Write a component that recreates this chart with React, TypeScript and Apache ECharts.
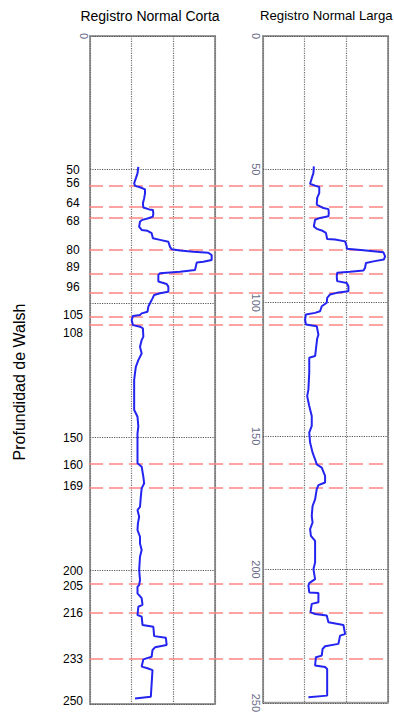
import React, { useEffect, useRef } from "react";
import * as echarts from "echarts";

// Depth axis
const depthMin = 0;
const depthMax = 250;
const depthStep = 50;

// Log value axis (arbitrary units)
const valueMin = 0;
const valueMax = 300;
const valueStep = 100;

// Registro Normal Corta: [value, depth]
const shortNormal: [number, number][] = [
  [116, 49], [114, 51.4], [110, 53.3], [106, 55.1], [108, 56.1], [120, 56.6], [132, 57.4], [132, 58.9],
  [130, 60.7], [127, 62.6], [128, 64.2], [142, 64.9], [151, 65.1], [152, 66.4], [151, 67.6], [140, 68.2],
  [124, 68.9], [120, 69.5], [118, 71.4], [124, 72.6], [138, 72.9], [148, 73.8], [151, 75.7], [168, 76.3],
  [188, 77.0], [192, 78.9], [196, 79.8], [216, 80.3], [248, 80.7], [284, 81.1], [292, 82.0], [292, 83.8],
  [272, 84.5], [256, 84.8], [254, 86.3], [252, 87.6], [216, 88.2], [168, 88.8], [164, 89.4], [164, 91.9],
  [184, 92.8], [188, 93.8], [188, 95.7], [168, 96.3], [154, 96.9], [150, 98.2], [144, 100], [140, 101.3],
  [138, 103.2], [124, 103.8], [120, 104.4], [103, 104.8], [100, 106.3], [103, 108.2], [120, 108.8],
  [127, 109.4], [128, 112.5], [124, 113.8], [120, 116.3], [124, 118.8], [116, 121.3], [110, 123.8],
  [108, 126.2], [106, 128.7], [106, 135], [106, 140], [110, 141.2], [114, 142.5], [116, 146.2],
  [114, 148.7], [114, 153.7], [114, 159.9], [124, 161.2], [128, 164.9], [130, 167.4], [124, 169.3],
  [122, 172.4], [120, 176.2], [114, 177.4], [118, 179.9], [115, 182.4], [114, 184.9], [120, 187.4],
  [120, 189.9], [124, 192.4], [120, 194.9], [118, 199.9], [120, 203.6], [118, 205.5], [114, 206.1],
  [114, 208.6], [124, 210.4], [126, 212.9], [116, 213.6], [114, 216.7], [124, 217.3], [126, 220.4],
  [152, 221.1], [154, 224.6], [182, 225.2], [184, 227.9], [156, 228.8], [150, 229.8], [148, 232.3],
  [128, 233.3], [124, 236], [138, 236.6], [150, 237.3], [148, 242.3], [146, 247.3], [108, 247.9],
];

// Registro Normal Larga: [value, depth]
const longNormal: [number, number][] = [
  [122, 48.9], [121, 51.4], [117, 53.3], [113, 55.4], [125, 56.1], [135, 56.6], [135, 58.9], [130, 60.7],
  [129, 63.2], [145, 64.5], [157, 64.9], [158, 66.4], [157, 67.6], [137, 68.2], [125, 68.9], [122, 71.4],
  [129, 72.3], [141, 72.9], [151, 73.8], [154, 76.1], [173, 76.3], [197, 77], [201, 78.9], [201, 79.8],
  [241, 80.3], [289, 81.1], [293, 82.6], [290, 83.8], [265, 84.5], [247, 85.1], [245, 86.9], [241, 87.9],
  [209, 88.4], [178, 88.8], [177, 90.1], [178, 91.9], [201, 92.6], [205, 93.8], [205, 95.7], [177, 96.3],
  [161, 96.9], [154, 98.2], [153, 100], [141, 101.3], [137, 103.2], [125, 103.8], [103, 104.4],
  [101, 106.3], [103, 108.2], [129, 108.8], [133, 112], [130, 113.5], [127, 117.5], [125, 120],
  [111, 120.6], [111, 126.2], [109, 132.5], [106, 135], [111, 138.7], [117, 142.5], [117, 146.2],
  [111, 148.7], [113, 152.4], [119, 156.2], [125, 158.7], [129, 160.6], [141, 161.8], [149, 164.9],
  [149, 167.4], [133, 168.4], [129, 169.9], [125, 173.7], [119, 176.2], [117, 179.9], [119, 182.4],
  [113, 184.9], [115, 187.4], [125, 189.3], [125, 197.4], [121, 199.9], [125, 203.6], [111, 205.1],
  [109, 206.1], [111, 208.6], [133, 208.8], [133, 212.3], [117, 212.9], [114, 216], [125, 216.7],
  [153, 217.3], [157, 219.8], [193, 220.8], [197, 224.2], [185, 224.8], [181, 227.9], [149, 228.8],
  [143, 229.8], [141, 232.3], [127, 232.9], [125, 236], [149, 236.6], [154, 237.3], [154, 247.3],
  [109, 247.9],
];

// Red dashed marker depths
const markerDepths = [56, 64, 68, 80, 89, 96, 105, 108, 160, 169, 205, 216, 233];

// Depth labels on the left (text and where each is placed along the depth scale)
const labelTexts = ["50", "56", "64", "68", "80", "89", "96", "105", "108", "150", "160", "169", "200", "205", "216", "233", "250"];
const labelDepths = [50.3, 55.1, 62.5, 69.2, 80.1, 86.6, 94.1, 104.6, 111, 150.4, 160.4, 168.4, 200.2, 206, 216.1, 233.3, 248.7];

const titles = ["Registro Normal Corta", "Registro Normal Larga"];
const depthTitle = "Profundidad de Walsh";

const FONT = "Liberation Sans, Arial, Helvetica, sans-serif";

export default function App() {
  const ref = useRef<HTMLDivElement>(null);
  useEffect(() => {
    if (!ref.current) return;
    const chart = echarts.init(ref.current, undefined, { renderer: "svg" });

    const panelX = (gridIndex: number) => ({
      type: "value" as const,
      gridIndex,
      min: valueMin,
      max: valueMax,
      interval: valueStep,
      axisLine: { show: false },
      axisTick: { show: false },
      axisLabel: { show: false },
      splitLine: { show: true, lineStyle: { type: "dotted" as const, color: "#6e6e6e", width: 1.2 } },
    });
    const panelY = (gridIndex: number, onlyZero: boolean, margin: number) => ({
      type: "value" as const,
      gridIndex,
      min: depthMin,
      max: depthMax,
      interval: depthStep,
      inverse: true,
      axisLine: { show: false },
      axisTick: { show: false },
      axisLabel: {
        show: true,
        rotate: -90,
        margin,
        color: "#6b6b88",
        fontSize: 11,
        fontFamily: FONT,
        formatter: (v: number) => (onlyZero && v !== 0 ? "" : String(v)),
      },
      splitLine: { show: true, lineStyle: { type: "dotted" as const, color: "#555555", width: 1.2 } },
    });

    chart.setOption({
      animation: false,
      backgroundColor: "#ffffff",
      grid: [
        { left: 90, top: 36, width: 125, height: 668, show: true, borderColor: "#9a9a9a", borderWidth: 2, backgroundColor: "transparent" },
        { left: 263, top: 36, width: 125, height: 668, show: true, borderColor: "#9a9a9a", borderWidth: 2, backgroundColor: "transparent" },
        { left: 89, top: 36, width: 299, height: 668, show: false },
      ],
      xAxis: [
        panelX(0),
        panelX(1),
        { type: "value", gridIndex: 2, min: 0, max: 1, show: false },
      ],
      yAxis: [
        panelY(0, true, 1),
        panelY(1, false, 2),
        {
          type: "value",
          gridIndex: 2,
          min: depthMin,
          max: depthMax,
          inverse: true,
          axisLine: { show: false },
          axisTick: { show: false },
          splitLine: { show: false },
          axisLabel: {
            show: true,
            customValues: labelDepths,
            margin: 16,
            align: "center",
            color: "#000000",
            fontSize: 12,
            lineHeight: 11,
            fontFamily: FONT,
            formatter: (v: number) => {
              const i = labelDepths.indexOf(v);
              return i >= 0 ? labelTexts[i] : "";
            },
          },
        },
      ],
      graphic: [
        { type: "text", x: 150, y: 16, style: { text: titles[0], font: `14px ${FONT}`, fill: "#000", textAlign: "center", textVerticalAlign: "middle" } },
        { type: "text", x: 260, y: 15, style: { text: titles[1], font: `13.2px ${FONT}`, fill: "#000", textAlign: "left", textVerticalAlign: "middle" } },
        { type: "text", x: 19, y: 382, rotation: Math.PI / 2, style: { text: depthTitle, font: `16px ${FONT}`, fill: "#000", textAlign: "center", textVerticalAlign: "middle" } },
      ],
      series: [
        {
          type: "line",
          xAxisIndex: 2,
          yAxisIndex: 2,
          data: [],
          z: 1,
          silent: true,
          markLine: {
            silent: true,
            symbol: ["none", "none"],
            label: { show: false },
            lineStyle: { color: "#ff8484", type: [14, 6], width: 1.6 },
            data: markerDepths.map((d) => ({ yAxis: d })),
          },
        },
        {
          type: "line",
          xAxisIndex: 0,
          yAxisIndex: 0,
          data: shortNormal,
          showSymbol: false,
          symbol: "none",
          z: 5,
          lineStyle: { color: "#2424f0", width: 2 },
        },
        {
          type: "line",
          xAxisIndex: 1,
          yAxisIndex: 1,
          data: longNormal,
          showSymbol: false,
          symbol: "none",
          z: 5,
          lineStyle: { color: "#2424f0", width: 2 },
        },
      ],
    });
    return () => chart.dispose();
  }, []);
  return <div ref={ref} style={{ position: "absolute", left: 0, top: 0, width: 394, height: 715 }} />;
}
